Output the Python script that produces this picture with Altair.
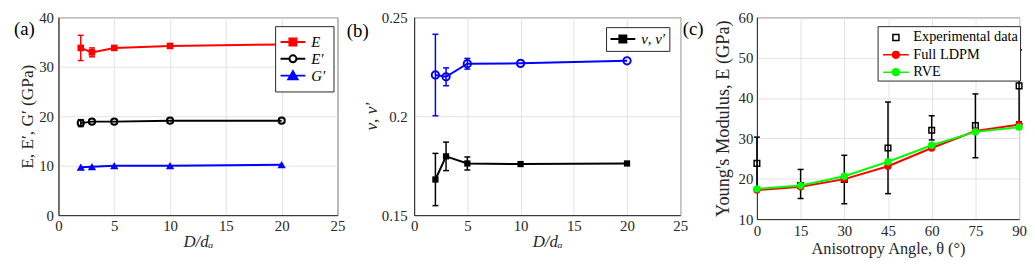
import altair as alt
import pandas as pd

# ---------------- data ----------------
size_ratio = [2, 3, 5, 10, 20]
E_mod = [33.8, 32.9, 33.8, 34.2, 34.5]
E_mod_err = [2.55, 0.9, 0.0, 0.0, 0.0]
E_prime = [18.6, 18.9, 18.9, 19.1, 19.1]
E_prime_err = [0.7, 0.0, 0.0, 0.0, 0.0]
G_prime = [9.7, 9.8, 10.0, 10.0, 10.2]
G_prime_err = [0.0, 0.0, 0.0, 0.0, 0.0]

nu_prime = [0.2208, 0.2199, 0.2265, 0.2267, 0.2280]
nu_prime_err = [0.0206, 0.0045, 0.0027, 0.0, 0.0]
nu = [0.1680, 0.1797, 0.1761, 0.1758, 0.1761]
nu_err = [0.0132, 0.0072, 0.0033, 0.0, 0.0]

angles = [0, 15, 30, 45, 60, 75, 90]
exp_E = [23.8, 18.3, 19.8, 27.6, 32.0, 33.2, 43.0]
exp_lo = [17.3, 15.1, 13.8, 16.3, 29.6, 25.2, 34.1]
exp_hi = [30.3, 22.3, 25.8, 39.0, 35.6, 41.0, 51.9]
ldpm_E = [17.2, 18.0, 19.9, 23.1, 27.6, 31.8, 33.4]
rve_E = [17.5, 18.3, 20.6, 24.2, 28.3, 31.6, 32.8]

series_a = ["E", "E′", "G′"]
series_b = ["ν, ν′"]
series_c = ["Experimental data", "Full LDPM", "RVE"]
panel_labels = ["(a)", "(b)", "(c)"]

FONT = "Liberation Serif"
INK = "#262626"


def frame(x, y, lo, hi, name):
    return pd.DataFrame({"x": x, "y": y, "lo": lo, "hi": hi, "series": name})


def sym_frame(x, y, err, name):
    return frame(x, y, [v - e for v, e in zip(y, err)], [v + e for v, e in zip(y, err)], name)


def series_layers(df, xenc, yfn, color, shape, filled, size, stroke_w=2.0, line=True):
    base = alt.Chart(df)
    layers = []
    if line:
        layers.append(base.mark_line(color=color, strokeWidth=2).encode(x=xenc, y=yfn("y")))
    eb = base.transform_filter("datum.hi > datum.lo")
    layers.append(eb.mark_rule(color=color, strokeWidth=1.5).encode(x=xenc, y=yfn("lo"), y2=alt.Y2("hi")))
    for f in ("lo", "hi"):
        layers.append(
            eb.mark_tick(color=color, orient="horizontal", size=6, thickness=1.5, opacity=1)
            .encode(x=xenc, y=yfn(f))
        )
    layers.append(
        base.mark_point(shape=shape, filled=filled, color=color, size=size,
                        strokeWidth=stroke_w, opacity=1)
        .encode(x=xenc, y=yfn("y"))
    )
    return layers


def legend_layer(key, names, paths, fills, strokes, **legend_kw):
    df = pd.DataFrame({key: names})
    leg = alt.Legend(title=None, orient="none", direction="vertical",
                     strokeColor=INK, fillColor="white", cornerRadius=0,
                     labelFont=FONT, labelColor="black",
                     symbolOpacity=1, **legend_kw)
    return (
        alt.Chart(df).transform_filter("false").mark_point(opacity=1)
        .encode(
            shape=alt.Shape(f"{key}:N", scale=alt.Scale(domain=names, range=paths), legend=leg),
            fill=alt.Fill(f"{key}:N", scale=alt.Scale(domain=names, range=fills), legend=leg),
            stroke=alt.Stroke(f"{key}:N", scale=alt.Scale(domain=names, range=strokes), legend=leg),
        )
    )


def panel_label(text, dx, dy):
    return (
        alt.Chart(pd.DataFrame({"label": [text]}))
        .mark_text(font=FONT, fontSize=19, align="left", baseline="middle", color="black")
        .encode(text="label:N", x=alt.value(dx), y=alt.value(dy))
    )


# marker paths for legends (unit coordinates)
def line_with(marker, L):
    return f"M{-L},0H-0.47M0.47,0H{L}" + marker


SQ = "M-0.47,-0.47H0.47V0.47H-0.47Z"
CI = "M-0.47,0A0.47,0.47 0 1,0 0.47,0A0.47,0.47 0 1,0 -0.47,0Z"
TR = "M-0.62,0.5L0,-0.58L0.62,0.5Z"

# ---------------- panel (a) ----------------
xa = alt.X("x:Q", scale=alt.Scale(domain=[0, 25], nice=False),
           axis=alt.Axis(values=[0, 5, 10, 15, 20, 25], title="D/dₐ", titleFontStyle="italic",
                         labelPadding=4, titlePadding=0, labelFlush=False))


def ya(field):
    return alt.Y(f"{field}:Q", scale=alt.Scale(domain=[0, 40], nice=False),
                 axis=alt.Axis(values=[0, 10, 20, 30, 40], title="E, E′, G′ (GPa)",
                               labelPadding=5, titlePadding=2, titleFontSize=17.5))


df_E = sym_frame(size_ratio, E_mod, E_mod_err, series_a[0])
df_Ep = sym_frame(size_ratio, E_prime, E_prime_err, series_a[1])
df_Gp = sym_frame(size_ratio, G_prime, G_prime_err, series_a[2])

layers_a = (
    series_layers(df_Gp, xa, ya, "#0000ff", "triangle-up", True, 70)
    + series_layers(df_Ep, xa, ya, "#000000", "circle", False, 40, 2.0)
    + series_layers(df_E, xa, ya, "#ff0000", "square", True, 45)
    + [legend_layer("key_a", series_a,
                    [line_with(SQ, 1.67), line_with(CI, 1.67), line_with(TR, 1.67)],
                    ["#ff0000", "white", "#0000ff"], ["#ff0000", "#000000", "#0000ff"],
                    legendX=219, legendY=9, padding=7.5, symbolSize=225, symbolStrokeWidth=2,
                    symbolOffset=2, labelOffset=10, labelFontSize=15, labelFontStyle="italic",
                    rowPadding=0),
       panel_label(panel_labels[0], -45, 12)]
)
panel_a = alt.layer(*layers_a).properties(width=282, height=200)

# ---------------- panel (b) ----------------
xb = alt.X("x:Q", scale=alt.Scale(domain=[0, 25], nice=False),
           axis=alt.Axis(values=[0, 5, 10, 15, 20, 25], title="D/dₐ", titleFontStyle="italic",
                         labelPadding=4, titlePadding=0, labelFlush=False))


def yb(field):
    return alt.Y(f"{field}:Q", scale=alt.Scale(domain=[0.15, 0.25], nice=False),
                 axis=alt.Axis(values=[0.15, 0.2, 0.25], format=".2~f", title="ν, ν′",
                               titleFontStyle="italic", labelPadding=7, titlePadding=1,
                               titleFontSize=17.5))


df_nup = sym_frame(size_ratio, nu_prime, nu_prime_err, "ν′")
df_nu = sym_frame(size_ratio, nu, nu_err, "ν")

layers_b = (
    series_layers(df_nup, xb, yb, "#0000ff", "circle", False, 55, 2.0)
    + series_layers(df_nu, xb, yb, "#000000", "square", True, 40)
    + [legend_layer("key_b", series_b, [line_with(SQ, 1.67)], ["#000000"], ["#000000"],
                    legendX=194, legendY=10, padding=3.5, symbolSize=225, symbolStrokeWidth=2,
                    symbolOffset=5, labelOffset=10, labelFontSize=15, labelFontStyle="italic",
                    rowPadding=0),
       panel_label(panel_labels[1], -68, 14)]
)
panel_b = alt.layer(*layers_b).properties(width=269, height=200)

# ---------------- panel (c) ----------------
xc = alt.X("x:Q", scale=alt.Scale(domain=[0, 90], nice=False),
           axis=alt.Axis(values=[0, 15, 30, 45, 60, 75, 90], title="Anisotropy Angle, θ (°)",
                         labelPadding=5, titlePadding=2, labelFlush=False, titleFontSize=16.5))


def yc(field):
    return alt.Y(f"{field}:Q", scale=alt.Scale(domain=[10, 60], nice=False),
                 axis=alt.Axis(values=[10, 20, 30, 40, 50, 60], title="Young's Modulus, E (GPa)",
                               labelPadding=4, titlePadding=6, titleFontSize=18.5))


df_exp = frame(angles, exp_E, exp_lo, exp_hi, series_c[0])
df_ldpm = sym_frame(angles, ldpm_E, [0.0] * len(angles), series_c[1])
df_rve = sym_frame(angles, rve_E, [0.0] * len(angles), series_c[2])

CI_S = "M-0.4,0A0.4,0.4 0 1,0 0.4,0A0.4,0.4 0 1,0 -0.4,0Z"
SQ_S = "M-0.36,-0.36H0.36V0.36H-0.36Z"

layers_c = (
    series_layers(df_exp, xc, yc, "#000000", "square", False, 32, 1.5, line=False)
    + series_layers(df_ldpm, xc, yc, "#ff0000", "circle", True, 55)
    + series_layers(df_rve, xc, yc, "#00ff00", "circle", True, 55)
    + [legend_layer("key_c", series_c,
                    [SQ_S, "M-1.53,0H1.53" + CI_S, "M-1.53,0H1.53" + CI_S],
                    ["white", "#ff0000", "#00ff00"], ["#000000", "#ff0000", "#00ff00"],
                    legendX=122, legendY=9, padding=2, symbolSize=289, symbolStrokeWidth=1.5,
                    symbolOffset=7, labelOffset=8, labelFontSize=14.5, rowPadding=1.5),
       panel_label(panel_labels[2], -75, 12)]
)
panel_c = alt.layer(*layers_c).properties(width=265, height=204)

chart = (
    alt.hconcat(panel_a, panel_b, panel_c, spacing=77.5, bounds="flush")
    .resolve_scale(shape="independent", fill="independent", stroke="independent")
    .resolve_legend(shape="independent", fill="independent", stroke="independent")
    .properties(padding={"left": 5, "top": 0, "right": 0, "bottom": 0})
    .configure_axis(labelFont=FONT, titleFont=FONT, labelFontSize=15, titleFontSize=17,
                    labelColor=INK, titleColor=INK, domainColor=INK, domainWidth=1,
                    gridColor="#e3e3e3", tickSize=0, titleFontWeight="normal")
    .configure_legend(labelFont=FONT, labelColor="black")
    .configure_view(stroke=INK, strokeWidth=1)
)

chart.save("out.html", embed_options={"renderer": "svg", "actions": False})
